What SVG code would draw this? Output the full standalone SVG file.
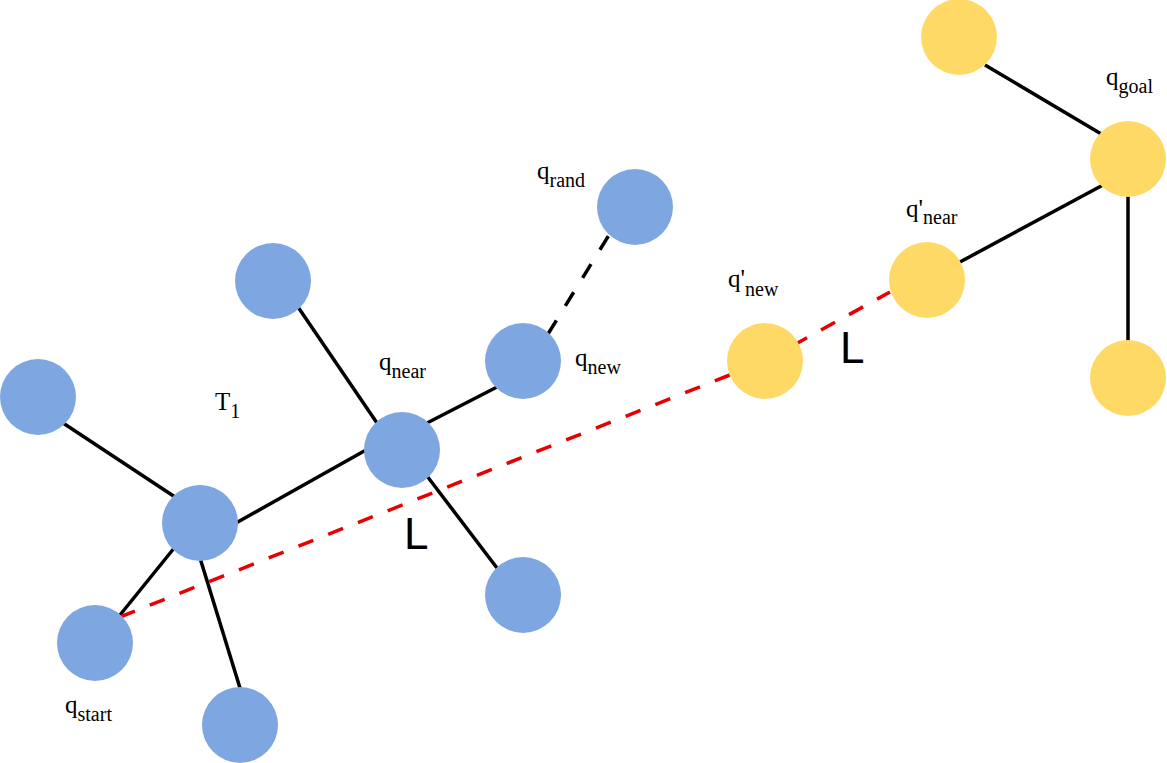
<svg xmlns="http://www.w3.org/2000/svg" width="1167" height="763" viewBox="0 0 1167 763">
<style>
.edge{stroke:#000;stroke-width:3.5;fill:none}
.dash{stroke:#000;stroke-width:3.5;stroke-dasharray:16 17;fill:none}
.red{stroke:#E60000;stroke-width:3.5;stroke-dasharray:16 16;fill:none}
.blue{fill:#7EA6E0}
.yellow{fill:#FFD966}
.lbl{font-family:"Liberation Serif","Times New Roman",serif;font-size:25px;fill:#000}
.sub{font-size:20px}
.L{font-family:"Liberation Sans",Arial,sans-serif;font-size:44px;fill:#000}
</style>
<rect width="1167" height="763" fill="#fff"/>
<g id="connectors">
<line class="edge" x1="63" y1="423" x2="175" y2="497"/>
<line class="edge" x1="236" y1="523" x2="366" y2="450"/>
<line class="edge" x1="120" y1="615" x2="175" y2="547"/>
<line class="edge" x1="200" y1="558" x2="240" y2="688"/>
<line class="edge" x1="298" y1="307" x2="377" y2="423"/>
<line class="edge" x1="427" y1="476" x2="497" y2="568"/>
<line class="edge" x1="427" y1="423" x2="497" y2="387"/>
<line class="dash" x1="548" y1="334" x2="609" y2="235"/>
<line class="edge" x1="960" y1="262" x2="1103" y2="185"/>
<line class="edge" x1="985" y1="65" x2="1103" y2="135"/>
<line class="edge" x1="1128" y1="195" x2="1128" y2="342"/>
<line class="red" x1="120" y1="617" x2="765" y2="361"/>
<line class="red" x1="765" y1="361" x2="890" y2="292"/>
</g>
<g id="n_a"><circle class="blue" cx="38" cy="397" r="38"/></g>
<g id="n_hub"><circle class="blue" cx="200" cy="523" r="38"/></g>
<g id="n_start"><circle class="blue" cx="95" cy="643" r="38"/></g>
<g id="n_bottom"><circle class="blue" cx="240" cy="725" r="38"/></g>
<g id="n_top"><circle class="blue" cx="273" cy="281" r="38"/></g>
<g id="n_near"><circle class="blue" cx="402" cy="450" r="38"/></g>
<g id="n_new"><circle class="blue" cx="523" cy="361" r="38"/></g>
<g id="n_br"><circle class="blue" cx="523" cy="595" r="38"/></g>
<g id="n_rand"><circle class="blue" cx="635" cy="207" r="38"/></g>
<g id="n_qnew2"><circle class="yellow" cx="765" cy="361" r="38"/></g>
<g id="n_qnear2"><circle class="yellow" cx="927" cy="280" r="38"/></g>
<g id="n_ytop"><circle class="yellow" cx="959" cy="37" r="38"/></g>
<g id="n_goal"><circle class="yellow" cx="1128" cy="159" r="38"/></g>
<g id="n_ybottom"><circle class="yellow" cx="1128" cy="378" r="38"/></g>
<g id="labels">
<text class="lbl" x="65" y="713">q<tspan class="sub" dy="8">start</tspan></text>
<text class="lbl" x="215" y="410">T<tspan class="sub" dy="8">1</tspan></text>
<text class="lbl" x="379" y="370">q<tspan class="sub" dy="8">near</tspan></text>
<text class="lbl" x="575" y="366">q<tspan class="sub" dy="8">new</tspan></text>
<text class="lbl" x="537" y="179">q<tspan class="sub" dy="8">rand</tspan></text>
<text class="lbl" x="728" y="287">q'<tspan class="sub" dy="9">new</tspan></text>
<text class="lbl" x="906" y="217">q'<tspan class="sub" dy="7">near</tspan></text>
<text class="lbl" x="1106" y="85">q<tspan class="sub" dy="8">goal</tspan></text>
<text class="L" x="404" y="549">L</text>
<text class="L" x="840" y="363">L</text>
</g>
</svg>
